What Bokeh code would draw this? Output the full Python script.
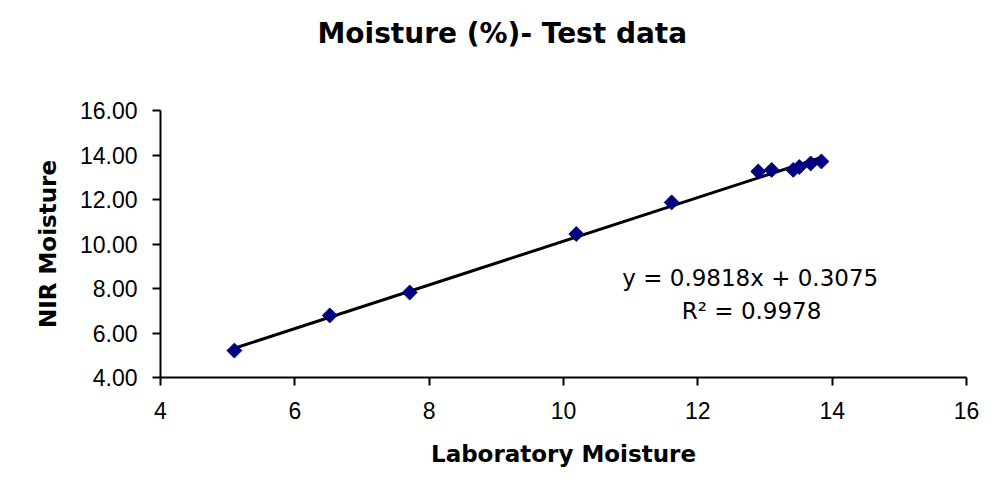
import math
from bokeh.plotting import figure
from bokeh.models import Range1d, FixedTicker, NumeralTickFormatter, Label, Title
from bokeh.embed import file_html
from bokeh.resources import INLINE

# Data
lab_moisture = [5.10, 6.52, 7.71, 10.19, 11.61, 12.90, 13.10, 13.42, 13.51, 13.68, 13.84]
nir_moisture = [5.21, 6.79, 7.82, 10.45, 11.87, 13.26, 13.33, 13.33, 13.46, 13.62, 13.71]
slope = 0.9818
intercept = 0.3075
r_squared = 0.9978
x_ticks = [4, 6, 8, 10, 12, 14, 16]
y_ticks = [4, 6, 8, 10, 12, 14, 16]
title_text = "Moisture (%)- Test data"

FONT = "Liberation Sans"
BOLD_FONT = "DejaVu Sans"

p = figure(width=1000, height=489, output_backend="svg", toolbar_location=None,
           x_range=Range1d(4, 16), y_range=Range1d(4, 16))
p.min_border_left = 160
p.min_border_right = 34
p.min_border_top = 110
p.min_border_bottom = 112
p.outline_line_color = None
p.grid.visible = False
p.background_fill_color = "white"
p.border_fill_color = "white"

# spacer between the title and the plot area (nearest the frame)
p.add_layout(Title(text=" ", text_font=BOLD_FONT, text_font_size="20px", standoff=23), "above")
# main title
p.add_layout(Title(text=title_text, text_font=BOLD_FONT, text_font_size="28px",
                   text_font_style="bold", text_color="black", align="left",
                   offset=157, vertical_align="top", standoff=20), "above")

for ax in (p.xaxis[0], p.yaxis[0]):
    ax.axis_line_width = 2
    ax.axis_line_color = "black"
    ax.major_tick_line_width = 2
    ax.major_tick_line_color = "black"
    ax.major_tick_in = 0
    ax.major_tick_out = 8
    ax.minor_tick_line_color = None
    ax.major_label_text_font = FONT
    ax.major_label_text_font_size = "23px"
    ax.major_label_text_color = "black"
    ax.axis_label_text_font = BOLD_FONT
    ax.axis_label_text_font_size = "23px"
    ax.axis_label_text_font_style = "bold"
    ax.axis_label_text_color = "black"

p.xaxis.ticker = FixedTicker(ticks=x_ticks)
p.yaxis.ticker = FixedTicker(ticks=y_ticks)
p.yaxis.formatter = NumeralTickFormatter(format="0.00")
p.xaxis.axis_label = "Laboratory Moisture"
p.yaxis.axis_label = "NIR Moisture"
p.xaxis.major_label_standoff = 16
p.yaxis.major_label_standoff = 15
p.xaxis.axis_label_standoff = 19
p.yaxis.axis_label_standoff = 16

# Trend line across the data range
x0, x1 = min(lab_moisture), max(lab_moisture)
p.line([x0, x1], [slope * x0 + intercept, slope * x1 + intercept],
       line_color="black", line_width=3)

p.scatter(lab_moisture, nir_moisture, marker="square", angle=math.pi / 4, size=10.5,
          fill_color="#000080", line_color="#000080")

p.add_layout(Label(x=12.78, y=8.49, text=f"y = {slope}x + {intercept}",
                   text_font="DejaVu Sans", text_font_size="23px",
                   text_align="center", text_baseline="middle", text_color="black"))
p.add_layout(Label(x=12.8, y=7.01, text=f"R² = {r_squared}",
                   text_font="DejaVu Sans", text_font_size="23px", text_align="center",
                   text_baseline="middle", text_color="black"))

open("out.html", "w").write(file_html(p, INLINE))
